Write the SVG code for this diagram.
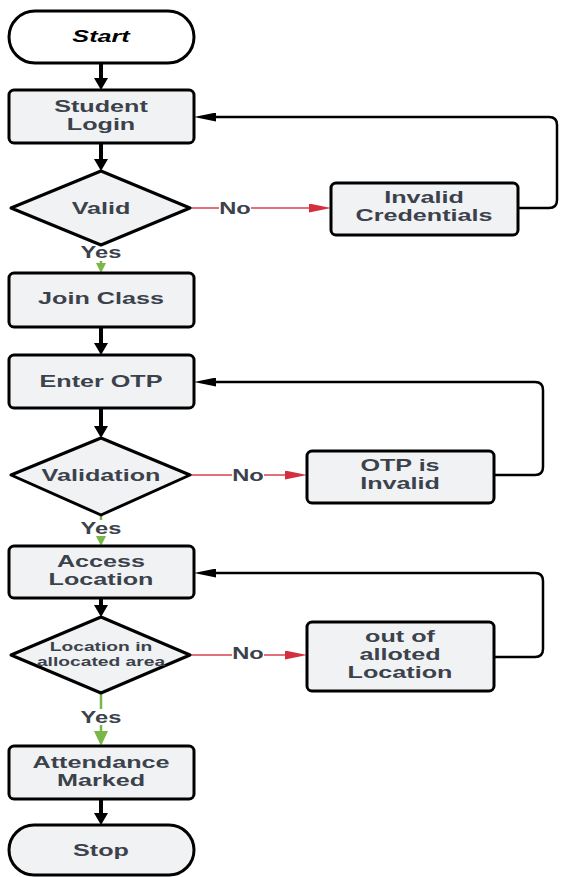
<svg xmlns="http://www.w3.org/2000/svg" width="561" height="877" viewBox="0 0 561 877">
<style>
.box{fill:#f1f2f4;stroke:#000;stroke-width:3;stroke-linejoin:round}
.t{font-family:"Liberation Sans",Arial,sans-serif;font-weight:bold;font-size:17px;fill:#3b424c;text-anchor:middle}
.ts{font-size:13px}
.lb{font-family:"Liberation Sans",Arial,sans-serif;font-weight:bold;font-size:16px;fill:#3b424c;text-anchor:middle}
.main{fill:none;stroke:#000;stroke-width:4}
.loop{fill:none;stroke:#000;stroke-width:2.5}
.no{fill:none;stroke:#d9414e;stroke-width:1.6}
.yes{fill:none;stroke:#7ab648;stroke-width:2.5}
.bg{fill:#fff}
</style>
<defs>
<marker id="mb" markerUnits="userSpaceOnUse" viewBox="0 0 12 14" refX="2" refY="7" markerWidth="12" markerHeight="14" orient="auto"><path d="M0,0 L12,7 L0,14 z" fill="#000"/></marker>
<marker id="ml" markerUnits="userSpaceOnUse" viewBox="0 0 22 9" refX="2" refY="4.5" markerWidth="22" markerHeight="9" orient="auto"><path d="M0,0 L22,4.5 L0,9 z" fill="#000"/></marker>
<marker id="mr" markerUnits="userSpaceOnUse" viewBox="0 0 22 9" refX="2" refY="4.5" markerWidth="22" markerHeight="9" orient="auto"><path d="M0,0 L22,4.5 L0,9 z" fill="#d42f3d"/></marker>
<marker id="mg" markerUnits="userSpaceOnUse" viewBox="0 0 10 10" refX="2" refY="5" markerWidth="10" markerHeight="10" orient="auto"><path d="M0,0 L10,5 L0,10 z" fill="#7ab648"/></marker>
<marker id="mg2" markerUnits="userSpaceOnUse" viewBox="0 0 15 14" refX="2" refY="7" markerWidth="15" markerHeight="14" orient="auto"><path d="M0,0 L15,7 L0,14 z" fill="#7ab648"/></marker>
</defs>
<rect width="561" height="877" fill="#fff"/>
<g id="connectors">
<path class="main" d="M101,63 V80" marker-end="url(#mb)"/>
<path class="main" d="M101,143 V161" marker-end="url(#mb)"/>
<path class="no" d="M190,208 H311" marker-end="url(#mr)"/>
<path class="loop" d="M518,208 H549 Q557,208 557,200 V125 Q557,117 549,117 H214" marker-end="url(#ml)"/>
<path class="yes" d="M101,245 V265" marker-end="url(#mg)"/>
<path class="main" d="M101,327 V345" marker-end="url(#mb)"/>
<path class="main" d="M101,408 V428" marker-end="url(#mb)"/>
<path class="no" d="M190,475 H287" marker-end="url(#mr)"/>
<path class="loop" d="M494,475 H535 Q543,475 543,467 V390 Q543,382 535,382 H214" marker-end="url(#ml)"/>
<path class="yes" d="M101,515 V538" marker-end="url(#mg)"/>
<path class="main" d="M101,598 V607" marker-end="url(#mb)"/>
<path class="no" d="M190,655 H287" marker-end="url(#mr)"/>
<path class="loop" d="M494,657 H535 Q543,657 543,649 V581 Q543,573 535,573 H214" marker-end="url(#ml)"/>
<path class="yes" d="M101,693 V733" marker-end="url(#mg2)"/>
<path class="main" d="M101,799 V815" marker-end="url(#mb)"/>
<rect class="bg" x="219" y="200" width="32" height="16"/>
<text class="lb" transform="translate(235,214) scale(1.48,1)">No</text>
<rect class="bg" x="82" y="246" width="38" height="15"/>
<text class="lb" transform="translate(101,258) scale(1.48,1)">Yes</text>
<rect class="bg" x="232" y="467" width="32" height="16"/>
<text class="lb" transform="translate(248,481) scale(1.48,1)">No</text>
<rect class="bg" x="82" y="520" width="38" height="16"/>
<text class="lb" transform="translate(101,534) scale(1.48,1)">Yes</text>
<rect class="bg" x="232" y="645" width="32" height="16"/>
<text class="lb" transform="translate(248,659) scale(1.48,1)">No</text>
<rect class="bg" x="82" y="709" width="38" height="16"/>
<text class="lb" transform="translate(101,723) scale(1.48,1)">Yes</text>
</g>
<g id="start">
<rect x="9" y="11" width="185" height="52" rx="26" fill="#fff" stroke="#000" stroke-width="3"/>
<text class="t" style="fill:#000;font-style:italic" transform="translate(101,42) scale(1.48,1)">Start</text>
</g>
<g id="login">
<rect class="box" x="9" y="90" width="185" height="53" rx="5"/>
<text class="t" transform="translate(101,112) scale(1.48,1)">Student</text>
<text class="t" transform="translate(101,130) scale(1.48,1)">Login</text>
</g>
<g id="valid">
<polygon class="box" points="11,208 101,171 190,208 101,245"/>
<text class="t" transform="translate(101,214) scale(1.48,1)">Valid</text>
</g>
<g id="invalid">
<rect class="box" x="331" y="183" width="187" height="52" rx="5"/>
<text class="t" transform="translate(424,203) scale(1.48,1)">Invalid</text>
<text class="t" transform="translate(424,221) scale(1.48,1)">Credentials</text>
</g>
<g id="join">
<rect class="box" x="9" y="273" width="185" height="54" rx="5"/>
<text class="t" transform="translate(101,304) scale(1.48,1)">Join Class</text>
</g>
<g id="enter">
<rect class="box" x="9" y="355" width="185" height="53" rx="5"/>
<text class="t" transform="translate(101,387) scale(1.48,1)">Enter OTP</text>
</g>
<g id="validation">
<polygon class="box" points="11,475 101,438 190,475 101,515"/>
<text class="t" transform="translate(101,481) scale(1.48,1)">Validation</text>
</g>
<g id="otpinvalid">
<rect class="box" x="307" y="451" width="187" height="52" rx="5"/>
<text class="t" transform="translate(400,471) scale(1.48,1)">OTP is</text>
<text class="t" transform="translate(400,489) scale(1.48,1)">Invalid</text>
</g>
<g id="access">
<rect class="box" x="9" y="546" width="185" height="52" rx="5"/>
<text class="t" transform="translate(101,567) scale(1.48,1)">Access</text>
<text class="t" transform="translate(101,585) scale(1.48,1)">Location</text>
</g>
<g id="location">
<polygon class="box" points="11,655 101,617 190,655 101,693"/>
<text class="t ts" transform="translate(101,651) scale(1.48,1)">Location in</text>
<text class="t ts" transform="translate(101,666) scale(1.48,1)">allocated area</text>
</g>
<g id="outof">
<rect class="box" x="307" y="622" width="187" height="69" rx="5"/>
<text class="t" transform="translate(400,642) scale(1.48,1)">out of</text>
<text class="t" transform="translate(400,660) scale(1.48,1)">alloted</text>
<text class="t" transform="translate(400,678) scale(1.48,1)">Location</text>
</g>
<g id="attendance">
<rect class="box" x="9" y="746" width="185" height="53" rx="5"/>
<text class="t" transform="translate(101,768) scale(1.48,1)">Attendance</text>
<text class="t" transform="translate(101,786) scale(1.48,1)">Marked</text>
</g>
<g id="stop">
<rect class="box" x="9" y="825" width="185" height="50" rx="25"/>
<text class="t" transform="translate(101,856) scale(1.48,1)">Stop</text>
</g>
</svg>
